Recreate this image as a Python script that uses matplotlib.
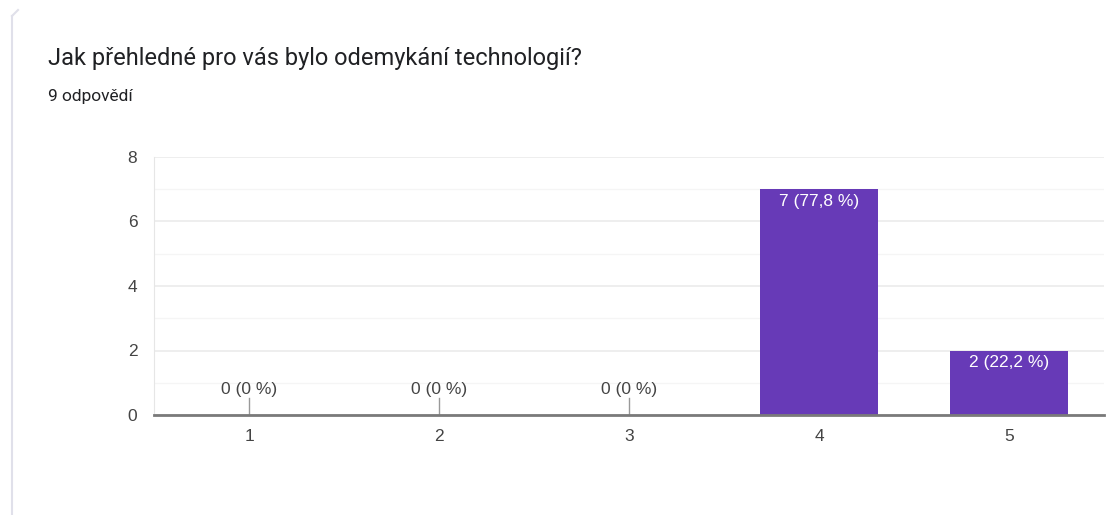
import matplotlib.pyplot as plt
from matplotlib.lines import Line2D

categories = ["1", "2", "3", "4", "5"]
counts = [0, 0, 0, 7, 2]
percent_labels = ["0 %", "0 %", "0 %", "77,8 %", "22,2 %"]
y_ticks = [0, 2, 4, 6, 8]

title = "Jak přehledné pro vás bylo odemykání technologií?"
subtitle = "9 odpovědí"

W, H = 1110, 515
fig = plt.figure(figsize=(W / 100, H / 100), dpi=100)
fig.patch.set_facecolor("white")

# card border on the left
fig.add_artist(Line2D([12 / W, 12 / W], [0, 1 - 16 / H], transform=fig.transFigure,
                      color="#e0e0ea", lw=1.5))
fig.add_artist(Line2D([12 / W, 18 / W], [1 - 16 / H, 1 - 10 / H], transform=fig.transFigure,
                      color="#e0e0ea", lw=1.5))

fig.text(48 / W, 1 - 58 / H, title, fontsize=17, family="Roboto", color="#202124", va="center")
fig.text(48 / W, 1 - 96 / H, subtitle, fontsize=12.5, family="Roboto", color="#202124", va="center")

ax = fig.add_axes([154 / W, 100 / H, 950 / W, 258 / H])
x = list(range(1, len(categories) + 1))
ax.bar(x, counts, width=0.62, color="#673ab7", zorder=3)

ax.set_xlim(0.5, len(categories) + 0.5)
ax.set_ylim(0, 8)
ax.set_yticks(y_ticks)
ax.set_yticks([1, 3, 5, 7], minor=True)
ax.set_xticks(x)
ax.set_xticklabels(categories)

ax.grid(axis="y", which="major", color="#ebebeb", lw=1.2, zorder=0)
ax.grid(axis="y", which="minor", color="#f5f5f5", lw=1.0, zorder=0)
for side in ("top", "right"):
    ax.spines[side].set_visible(False)
ax.spines["left"].set_color("#e6e6e6")
ax.spines["bottom"].set_color("#7a7a7a")
ax.spines["bottom"].set_linewidth(2)
ax.spines["bottom"].set_zorder(4)
ax.tick_params(which="both", length=0)
ax.tick_params(axis="x", pad=10, labelsize=12.5, labelcolor="#444444")
ax.tick_params(axis="y", pad=12, labelsize=12.5, labelcolor="#444444")
for lbl in ax.get_xticklabels() + ax.get_yticklabels():
    lbl.set_family("Liberation Sans")

for xi, c, p in zip(x, counts, percent_labels):
    text = f"{c} ({p})"
    if c == 0:
        ax.plot([xi, xi], [0, 0.52], color="#999999", lw=1, zorder=2)
        ax.text(xi, 0.8, text, ha="center", va="center", fontsize=12.5,
                family="Liberation Sans", color="#444444")
    else:
        ax.text(xi, c - 0.37, text, ha="center", va="center", fontsize=12.5,
                family="Liberation Sans", color="white", zorder=5)

fig.savefig("out.png", dpi=100, facecolor="white")
